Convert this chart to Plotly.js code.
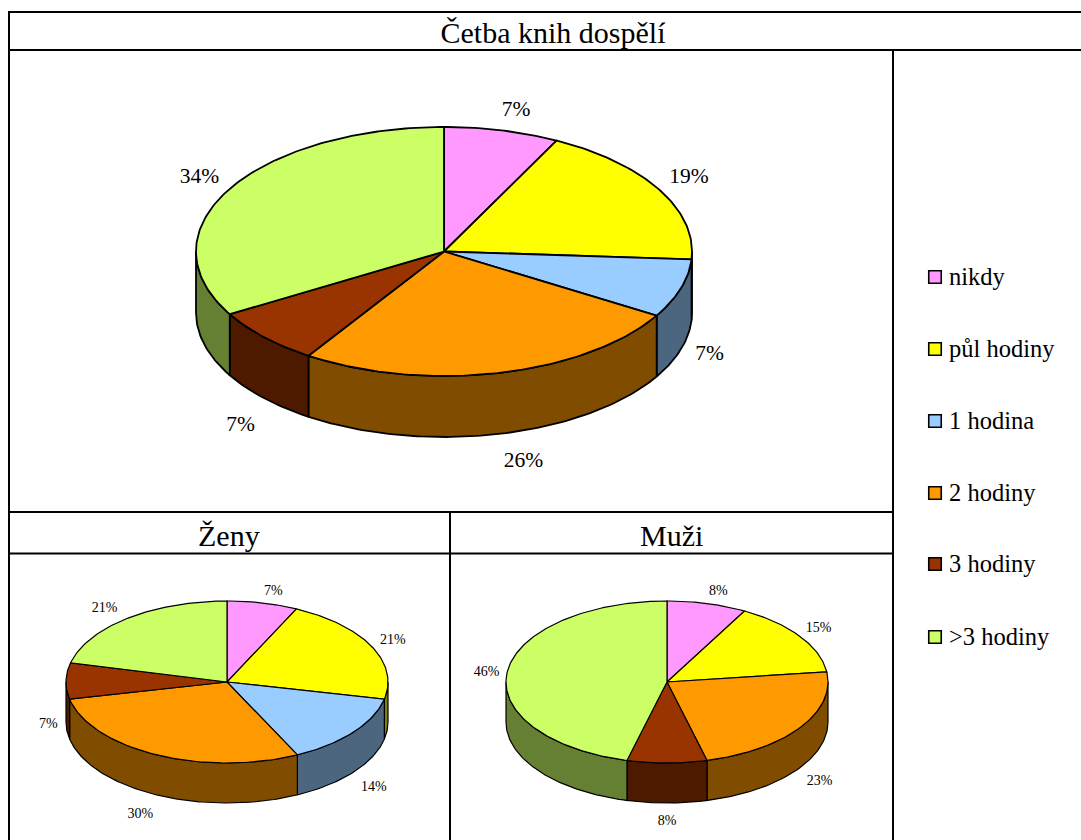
<!DOCTYPE html>
<html>
<head>
<meta charset="utf-8">
<script src="https://cdn.plot.ly/plotly-3.0.1.min.js"></script>
<style>html,body{margin:0;padding:0;background:#fff;overflow:hidden}#chart{width:1081px;height:840px}</style>
</head>
<body>
<div id="chart"></div>
<script>
const categories = ['nikdy', 'půl hodiny', '1 hodina', '2 hodiny', '3 hodiny', '>3 hodiny'];
const topColors = ['#FF99FF', '#FFFF00', '#99CCFF', '#FF9900', '#993300', '#CCFF66'];
const wallColors = ['#804D80', '#808000', '#4D6680', '#804D00', '#4D1A00', '#668033'];

const dospeliShares = [7.5, 18.5, 7.6, 25.6, 7.4, 33.4];
const dospeliLabels = ['7%', '19%', '7%', '26%', '7%', '34%'];
const zenyShares = [7.1, 21.3, 14.4, 28.8, 7.2, 21.2];
const zenyLabels = ['7%', '21%', '14%', '30%', '7%', '21%'];
const muziShares = [8, 15, 0, 23, 8, 46];
const muziLabels = ['8%', '15%', '', '23%', '8%', '46%'];

const FONT = '"Liberation Serif", "Times New Roman", serif';
const W = 1081, H = 840;

const traces = [];

function pt(p, deg, drop) {
  const r = deg * Math.PI / 180;
  return [p.cx + p.rx * Math.sin(r), p.cy - p.ry * Math.cos(r) + (drop || 0)];
}
function arc(p, from, to, drop) {
  const out = [];
  const n = Math.max(1, Math.ceil(Math.abs(to - from)));
  for (let i = 0; i <= n; i++) out.push(pt(p, from + (to - from) * i / n, drop));
  return out;
}
function poly(points, fill, lw) {
  traces.push({
    type: 'scatter', mode: 'lines', hoverinfo: 'skip', showlegend: false,
    x: points.map(q => q[0]).concat(points[0][0]),
    y: points.map(q => q[1]).concat(points[0][1]),
    fill: 'toself', fillcolor: fill,
    line: {color: '#000', width: lw}
  });
}
function drawPie(p, shares, labels) {
  const total = shares.reduce((a, b) => a + b, 0);
  const spans = [];
  let c = 0;
  shares.forEach(v => { spans.push([c / total * 360, (c + v) / total * 360]); c += v; });

  // outer rim: only the part facing the viewer
  spans.forEach((s, i) => {
    const a = Math.max(s[0], 90), b = Math.min(s[1], 270);
    if (b > a) poly(arc(p, a, b, 0).concat(arc(p, b, a, p.depth)), wallColors[i], p.lw);
  });
  // top face
  spans.forEach((s, i) => {
    if (s[1] > s[0]) poly([[p.cx, p.cy]].concat(arc(p, s[0], s[1], 0)), topColors[i], p.lw);
  });
  // percentage labels, placed around each slice's middle angle
  const lx = [], ly = [], lt = [];
  spans.forEach((s, i) => {
    if (!labels[i]) return;
    const r = (s[0] + s[1]) / 2 * Math.PI / 180;
    lx.push(p.cx + p.rx * 1.16 * Math.sin(r) + p.nudge[i][0]);
    ly.push(p.cy - p.ry * 1.22 * Math.cos(r) + (Math.cos(r) < 0.05 ? p.depth : 0) + p.nudge[i][1]);
    lt.push(labels[i]);
  });
  traces.push({
    type: 'scatter', mode: 'text', hoverinfo: 'skip', showlegend: false,
    x: lx, y: ly, text: lt, textposition: 'middle center', cliponaxis: false,
    textfont: {family: FONT, size: p.fontSize, color: '#000'}
  });
}

drawPie({cx: 444, cy: 251.5, rx: 248, ry: 124.5, depth: 61, lw: 1.8, fontSize: 21.5,
         nudge: [[5, 7], [-5, 1], [-9, -3], [15, 1], [5, 8], [5, 2]]}, dospeliShares, dospeliLabels);
drawPie({cx: 227, cy: 682, rx: 161, ry: 81, depth: 40, lw: 1.2, fontSize: 14,
         nudge: [[5, 6], [-2, 2], [0, 4], [-5, 4], [8, 4], [-7, 4]]}, zenyShares, zenyLabels);
drawPie({cx: 667, cy: 682, rx: 161, ry: 81, depth: 40, lw: 1.2, fontSize: 14,
         nudge: [[5, 5], [-3, 2], [0, 0], [-2, 4], [0, 1], [5, 3]]}, muziShares, muziLabels);

// legend column
const legendRows = [277, 349, 421, 493, 564, 637];
traces.push({
  type: 'scatter', mode: 'markers', hoverinfo: 'skip', showlegend: false,
  x: categories.map(() => 935), y: legendRows,
  marker: {symbol: 'square', size: 12.5, color: topColors, line: {color: '#000', width: 1.6}}
});
traces.push({
  type: 'scatter', mode: 'text', hoverinfo: 'skip', showlegend: false,
  x: categories.map(() => 949), y: legendRows.map(v => v + 1.5), text: categories,
  textposition: 'middle right', cliponaxis: false,
  textfont: {family: FONT, size: 24.5, color: '#000'}
});

function rule(x0, y0, x1, y1) {
  return {type: 'line', xref: 'x', yref: 'y', x0, y0, x1, y1, layer: 'above', line: {color: '#000', width: 2}};
}
const layout = {
  width: W, height: H, autosize: false,
  margin: {l: 0, r: 0, t: 0, b: 0, pad: 0},
  paper_bgcolor: '#fff', plot_bgcolor: '#fff', showlegend: false,
  xaxis: {range: [0, W], visible: false, fixedrange: true},
  yaxis: {range: [H, 0], visible: false, fixedrange: true},
  title: {
    text: 'Četba knih dospělí', x: 553 / W, y: 1 - 32 / H, xref: 'paper', yref: 'paper',
    xanchor: 'center', yanchor: 'middle', font: {family: FONT, size: 30, color: '#000'}
  },
  annotations: [
    {text: 'Ženy', x: 229, y: 535, xref: 'x', yref: 'y', showarrow: false, xanchor: 'center', yanchor: 'middle',
     font: {family: FONT, size: 30, color: '#000'}},
    {text: 'Muži', x: 671, y: 535, xref: 'x', yref: 'y', showarrow: false, xanchor: 'center', yanchor: 'middle',
     font: {family: FONT, size: 30, color: '#000'}}
  ],
  shapes: [
    rule(9, 12, W, 12), rule(9, 50, W, 50), rule(9, 11, 9, H),
    rule(893, 50, 893, H), rule(9, 512, 893, 512), rule(9, 553.5, 893, 553.5),
    rule(450, 512, 450, H)
  ]
};
Plotly.newPlot('chart', traces, layout, {displayModeBar: false, staticPlot: true});
</script>
</body>
</html>
